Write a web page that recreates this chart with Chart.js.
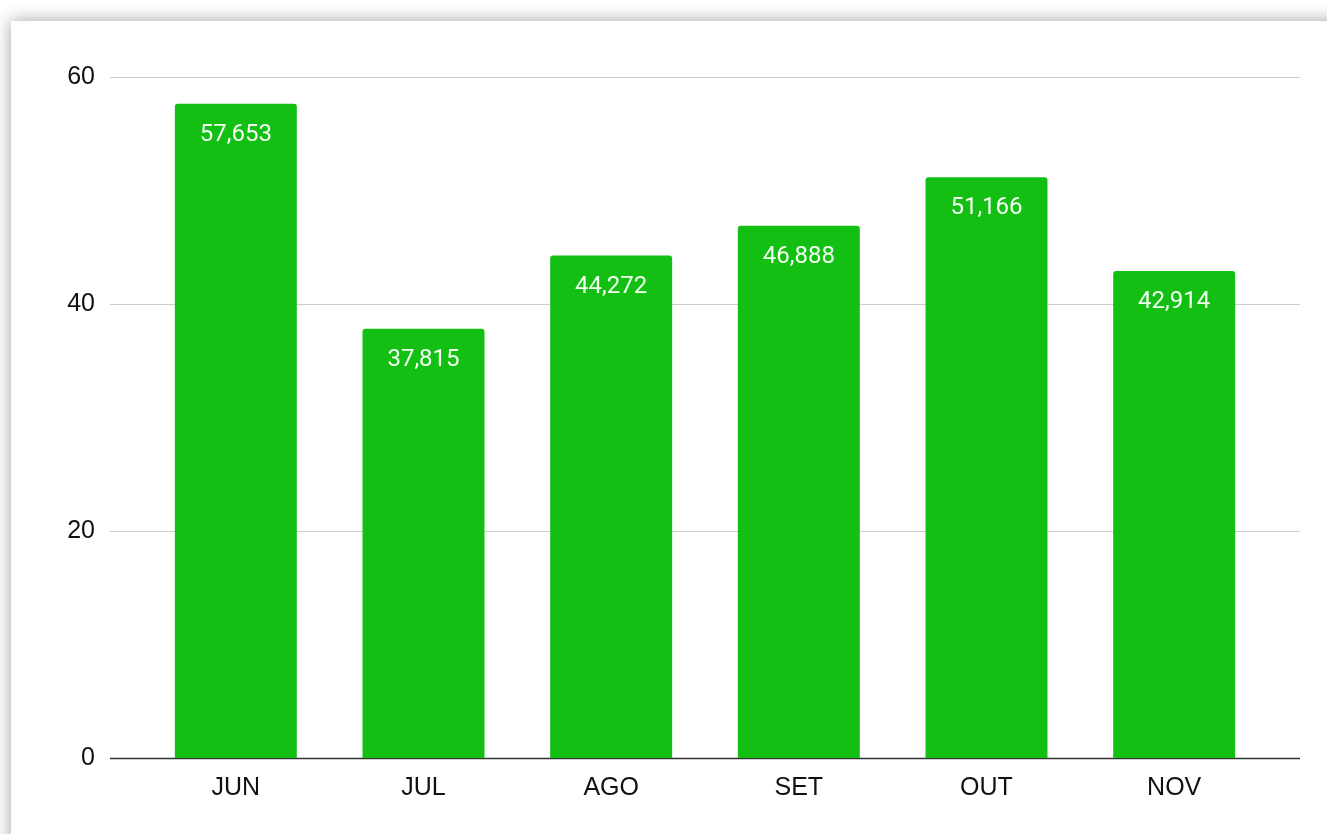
<!DOCTYPE html>
<html>
<head>
<meta charset="utf-8">
<script src="https://cdn.jsdelivr.net/npm/chart.js@4.4.1/dist/chart.umd.min.js"></script>
<style>
  html, body { margin: 0; padding: 0; background: #fff; overflow: hidden; }
  #card {
    position: absolute; left: 11px; top: 21px; width: 1340px; height: 840px;
    background: #fff; box-shadow: 0 0 16px rgba(0,0,0,0.38);
  }
  #wrap { position: absolute; left: 0; top: 0; width: 1327px; height: 834px; }
</style>
</head>
<body>
<div id="card"></div>
<div id="wrap"><canvas id="chart" width="1327" height="834"></canvas></div>
<script>
const months = ['JUN', 'JUL', 'AGO', 'SET', 'OUT', 'NOV'];
const values = [57.653, 37.815, 44.272, 46.888, 51.166, 42.914];
const yTicks = [0, 20, 40, 60];

const barGreen = '#13bf13';

/* ── gridlines wider than the category area ─────────────── */
const wideGrid = {
  id: 'wideGrid',
  beforeDatasetsDraw(chart) {
    const { ctx, scales: { y } } = chart;
    ctx.save();
    yTicks.forEach(v => {
      const py = Math.round(y.getPixelForValue(v)) + 0.5;
      ctx.beginPath();
      ctx.strokeStyle = v === 0 ? '#333' : '#cccccc';
      ctx.lineWidth = v === 0 ? 1.5 : 1.2;
      ctx.moveTo(110, py);
      ctx.lineTo(1300, py);
      ctx.stroke();
    });
    ctx.restore();
  }
};

/* ── value labels inside the bar tops ───────────────────── */
const valueLabels = {
  id: 'valueLabels',
  afterDatasetsDraw(chart) {
    const { ctx } = chart;
    const meta = chart.getDatasetMeta(0);
    ctx.save();
    ctx.font = '24px Roboto';
    ctx.fillStyle = '#f2fff2';
    ctx.textAlign = 'center';
    ctx.textBaseline = 'middle';
    meta.data.forEach((bar, i) => {
      const txt = values[i].toLocaleString('pt-BR', { minimumFractionDigits: 3 });
      ctx.fillText(txt, bar.x, bar.y + 31);
    });
    ctx.restore();
  }
};

new Chart(document.getElementById('chart'), {
  type: 'bar',
  data: {
    labels: months,
    datasets: [{
      data: values,
      backgroundColor: barGreen,
      borderRadius: { topLeft: 3, topRight: 3, bottomLeft: 0, bottomRight: 0 },
      borderSkipped: false,
      categoryPercentage: 1,
      barPercentage: 0.65
    }]
  },
  options: {
    responsive: false,
    animation: false,
    layout: { padding: { top: 77, right: 59, bottom: 0, left: 0 } },
    plugins: { legend: { display: false }, tooltip: { enabled: false } },
    scales: {
      x: {
        grid: { display: false, drawTicks: false },
        border: { display: false },
        ticks: { font: { size: 25, family: 'Liberation Sans' }, color: '#111', padding: 15 },
        afterFit: s => { s.height = 76; }
      },
      y: {
        min: 0, max: 60,
        grid: { display: false, drawTicks: false },
        border: { display: false },
        ticks: { stepSize: 20, font: { size: 25, family: 'Liberation Sans' }, color: '#111', padding: 47 },
        afterFit: s => { s.width = 142; }
      }
    }
  },
  plugins: [wideGrid, valueLabels]
});
</script>
</body>
</html>
